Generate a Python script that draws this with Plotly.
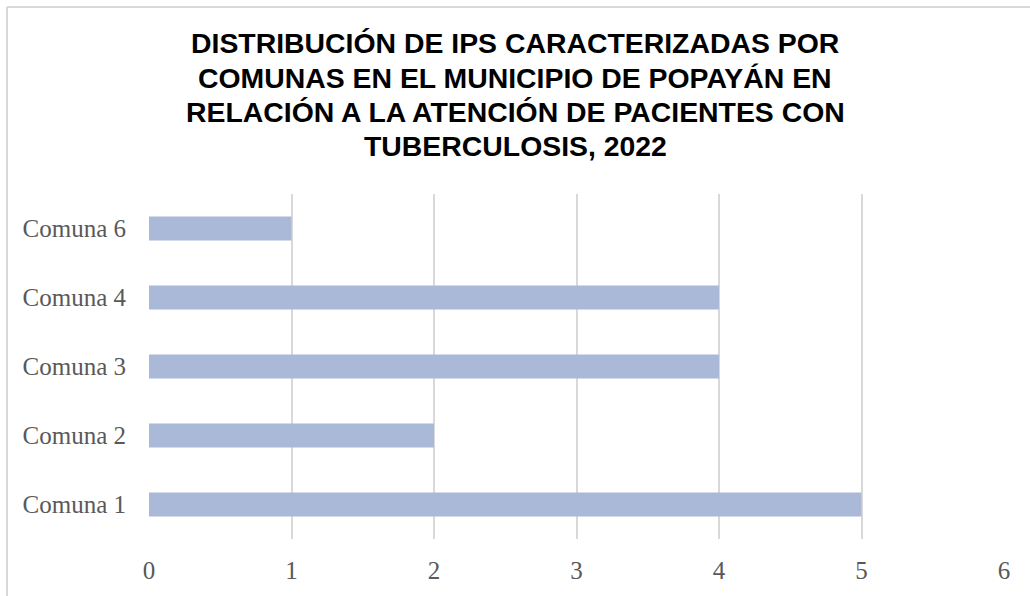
import plotly.graph_objects as go

categories = ["Comuna 1", "Comuna 2", "Comuna 3", "Comuna 4", "Comuna 6"]
values = [5, 2, 4, 4, 1]
x_ticks = [0, 1, 2, 3, 4, 5, 6]
title_lines = [
    "DISTRIBUCIÓN DE IPS CARACTERIZADAS POR",
    "COMUNAS EN EL MUNICIPIO DE POPAYÁN EN",
    "RELACIÓN A LA ATENCIÓN DE PACIENTES CON",
    "TUBERCULOSIS, 2022",
]

W, H = 1030, 596
ML, MR, MT, MB = 149, 26, 194, 57
PW, PH = W - ML - MR, H - MT - MB


def px_x(px):
    return (px - ML) / PW


def px_y(py):
    return (H - MB - py) / PH


fig = go.Figure(
    go.Bar(
        x=values,
        y=categories,
        orientation="h",
        width=0.35,
        marker=dict(color="#A9B9D7", line=dict(width=0)),
        hoverinfo="skip",
    )
)

tick_font = dict(family="Liberation Serif, Times New Roman, serif", size=25, color="#595959")

fig.update_layout(
    width=W,
    height=H,
    margin=dict(l=ML, r=MR, t=MT, b=MB),
    paper_bgcolor="white",
    plot_bgcolor="white",
    showlegend=False,
    xaxis=dict(
        range=[0, 6],
        tickvals=x_ticks,
        ticktext=[str(v) for v in x_ticks],
        showgrid=True,
        gridcolor="#D9D9D9",
        gridwidth=2,
        zeroline=False,
        showline=False,
        ticks="",
        tickfont=tick_font,
        ticklabelstandoff=14,
        fixedrange=True,
    ),
    yaxis=dict(
        categoryorder="array",
        categoryarray=categories,
        showgrid=False,
        zeroline=False,
        showline=False,
        ticks="",
        tickfont=tick_font,
        ticklabelstandoff=22,
        fixedrange=True,
    ),
)

line_centers = [43, 77.5, 112, 146]
for txt, cy in zip(title_lines, line_centers):
    fig.add_annotation(
        text=f"<b>{txt}</b>",
        xref="paper",
        yref="paper",
        x=px_x(W / 2),
        y=px_y(cy),
        xanchor="center",
        yanchor="middle",
        showarrow=False,
        font=dict(family="Liberation Sans, Arial, sans-serif", size=28.4, color="#000000"),
    )

# chart-area border (left and top edges visible)
fig.add_shape(type="line", xref="paper", yref="paper",
              x0=px_x(7), x1=px_x(7), y0=px_y(7), y1=px_y(H + 10),
              line=dict(color="#D9D9D9", width=2))
fig.add_shape(type="line", xref="paper", yref="paper",
              x0=px_x(7), x1=px_x(W + 10), y0=px_y(7), y1=px_y(7),
              line=dict(color="#D9D9D9", width=2))

fig.write_html(
    "out.html",
    config={"displayModeBar": False},
    post_script="document.body.style.margin='0';document.body.style.overflow='hidden';",
)
